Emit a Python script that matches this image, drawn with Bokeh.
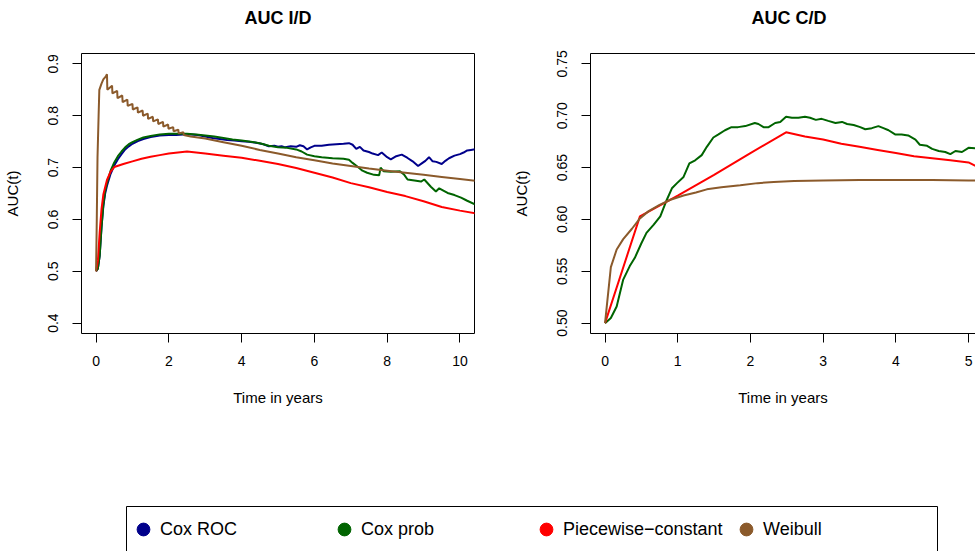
import math
from bokeh.plotting import figure
from bokeh.models import Range1d, LinearAxis, FixedTicker, Legend, LegendItem, Title
from bokeh.layouts import column, row
from bokeh.embed import file_html
from bokeh.resources import INLINE

FONT = "Liberation Sans"

# ---------------- data ----------------
series_names = ["Cox ROC", "Cox prob", "Piecewise\u2212constant", "Weibull"]
series_colors = ["#00008B", "#006400", "#FF0000", "#8B5A2B"]

id_x_ticks = [0, 2, 4, 6, 8, 10]
id_x_labels = ["0", "2", "4", "6", "8", "10"]
id_y_ticks = [0.4, 0.5, 0.6, 0.7, 0.8, 0.9]
id_y_labels = ["0.4", "0.5", "0.6", "0.7", "0.8", "0.9"]

cd_x_ticks = [0, 1, 2, 3, 4, 5]
cd_x_labels = ["0", "1", "2", "3", "4", "5"]
cd_y_ticks = [0.50, 0.55, 0.60, 0.65, 0.70, 0.75]
cd_y_labels = ["0.50", "0.55", "0.60", "0.65", "0.70", "0.75"]

# AUC I/D
id_coxroc_t = [0.00, 0.05, 0.10, 0.15, 0.20, 0.25, 0.30, 0.40, 0.50, 0.60, 0.70, 0.80, 0.90,
               1.00, 1.15, 1.30, 1.50, 1.75, 2.00, 2.20, 2.40, 2.60, 2.80, 3.00, 3.20, 3.40,
               3.60, 3.80, 4.00, 4.20, 4.40, 4.60, 4.75, 4.90, 5.00, 5.10, 5.20, 5.35, 5.50,
               5.60, 5.70, 5.80, 5.90, 6.00, 6.20, 6.40, 6.60, 6.80, 6.95, 7.05, 7.15, 7.25,
               7.35, 7.50, 7.60, 7.75, 7.85, 8.00, 8.10, 8.25, 8.40, 8.55, 8.70, 8.85, 8.95,
               9.05, 9.15, 9.25, 9.35, 9.50, 9.60, 9.70, 9.85, 10.00, 10.10, 10.20, 10.30, 10.50]
id_coxroc_v = [0.500, 0.505, 0.530, 0.585, 0.625, 0.650, 0.665, 0.688, 0.704, 0.716, 0.726, 0.735, 0.741,
               0.746, 0.751, 0.755, 0.759, 0.762, 0.763, 0.763, 0.764, 0.764, 0.763, 0.760, 0.757, 0.755,
               0.753, 0.752, 0.751, 0.750, 0.748, 0.745, 0.741, 0.742, 0.740, 0.741, 0.739, 0.741, 0.740,
               0.743, 0.741, 0.735, 0.739, 0.742, 0.742, 0.744, 0.745, 0.746, 0.747, 0.744, 0.736, 0.740,
               0.733, 0.730, 0.727, 0.724, 0.729, 0.720, 0.716, 0.722, 0.725, 0.719, 0.712, 0.703, 0.708,
               0.713, 0.720, 0.712, 0.711, 0.707, 0.713, 0.718, 0.723, 0.726, 0.729, 0.733, 0.734, 0.736]

id_coxprob_t = [0.00, 0.05, 0.10, 0.15, 0.20, 0.25, 0.30, 0.40, 0.50, 0.60, 0.70, 0.80, 0.90,
                1.00, 1.15, 1.30, 1.50, 1.75, 2.00, 2.25, 2.50, 2.75, 3.00, 3.25, 3.50, 3.75,
                4.00, 4.25, 4.50, 4.75, 5.00, 5.25, 5.50, 5.65, 5.80, 6.00, 6.20, 6.50, 6.80,
                6.95, 7.05, 7.18, 7.32, 7.45, 7.64, 7.78, 7.82, 7.90, 8.10, 8.35, 8.47, 8.56,
                8.75, 8.93, 9.02, 9.20, 9.34, 9.43, 9.66, 9.85, 10.03, 10.20, 10.50]
id_coxprob_v = [0.500, 0.505, 0.530, 0.585, 0.628, 0.655, 0.670, 0.694, 0.710, 0.722, 0.731, 0.739, 0.745,
                0.749, 0.754, 0.758, 0.761, 0.764, 0.765, 0.765, 0.765, 0.764, 0.762, 0.760, 0.757, 0.754,
                0.752, 0.750, 0.747, 0.742, 0.739, 0.738, 0.735, 0.731, 0.725, 0.722, 0.720, 0.718, 0.717,
                0.715, 0.709, 0.702, 0.694, 0.690, 0.686, 0.685, 0.700, 0.693, 0.692, 0.693, 0.686, 0.677,
                0.675, 0.673, 0.677, 0.663, 0.654, 0.660, 0.651, 0.647, 0.642, 0.636, 0.626]

id_pwc_t = [0.00, 0.05, 0.10, 0.15, 0.20, 0.30, 0.40, 0.50, 0.75, 1.00, 1.25, 1.50, 1.75, 2.00,
            2.25, 2.50, 3.00, 3.50, 4.00, 4.50, 5.00, 5.50, 6.00, 6.50, 7.00, 7.50, 8.00, 8.50,
            9.00, 9.50, 10.00, 10.50]
id_pwc_v = [0.500, 0.520, 0.575, 0.620, 0.648, 0.676, 0.692, 0.701, 0.707, 0.712, 0.717, 0.721, 0.724, 0.727,
            0.729, 0.731, 0.727, 0.723, 0.719, 0.713, 0.707, 0.699, 0.690, 0.681, 0.670, 0.662, 0.653, 0.645,
            0.635, 0.624, 0.617, 0.611]

id_weib_t = [0.00, 0.02, 0.04, 0.07, 0.09, 0.15, 0.20, 0.27, 0.30,
             0.31, 0.44, 0.45, 0.58, 0.59, 0.72, 0.73, 0.86, 0.87, 1.00, 1.01, 1.14, 1.15,
             1.28, 1.29, 1.42, 1.43, 1.56, 1.57, 1.70, 1.71, 1.84, 1.85, 1.98, 1.99, 2.12,
             2.13, 2.26, 2.27, 2.40, 2.41, 2.60, 3.00, 3.50, 4.00, 4.50, 5.00, 5.50, 6.00,
             6.50, 7.00, 7.50, 8.00, 8.50, 9.00, 9.50, 10.00, 10.50]
id_weib_v = [0.500, 0.600, 0.720, 0.800, 0.850, 0.862, 0.870, 0.876, 0.880,
             0.850, 0.858, 0.843, 0.848, 0.834, 0.839, 0.826, 0.831, 0.819, 0.823, 0.812, 0.816, 0.806,
             0.810, 0.800, 0.804, 0.794, 0.798, 0.789, 0.793, 0.784, 0.788, 0.779, 0.783, 0.775, 0.778,
             0.770, 0.773, 0.766, 0.768, 0.763, 0.760, 0.756, 0.749, 0.742, 0.734, 0.727, 0.720, 0.714,
             0.708, 0.703, 0.698, 0.694, 0.690, 0.686, 0.682, 0.678, 0.674]

# AUC C/D
cd_coxprob_t = [0.00, 0.08, 0.16, 0.25, 0.34, 0.41, 0.50, 0.57, 0.67, 0.76, 0.85, 0.92, 0.99,
                1.08, 1.16, 1.24, 1.33, 1.40, 1.49, 1.56, 1.65, 1.74, 1.83, 1.93, 2.06, 2.11,
                2.18, 2.25, 2.34, 2.41, 2.49, 2.57, 2.66, 2.75, 2.82, 2.90, 2.98, 3.07, 3.17,
                3.26, 3.33, 3.42, 3.51, 3.58, 3.67, 3.76, 3.83, 3.90, 3.99, 4.08, 4.17, 4.27,
                4.33, 4.43, 4.50, 4.59, 4.68, 4.75, 4.82, 4.91, 5.00, 5.20]
cd_coxprob_v = [0.500, 0.505, 0.516, 0.542, 0.555, 0.563, 0.577, 0.587, 0.595, 0.603, 0.619, 0.630, 0.635,
                0.641, 0.654, 0.657, 0.662, 0.670, 0.679, 0.682, 0.686, 0.689, 0.689, 0.690, 0.693, 0.692,
                0.689, 0.689, 0.693, 0.694, 0.699, 0.698, 0.698, 0.699, 0.698, 0.696, 0.697, 0.695, 0.693,
                0.694, 0.692, 0.691, 0.689, 0.687, 0.688, 0.690, 0.688, 0.686, 0.682, 0.682, 0.681, 0.677,
                0.672, 0.671, 0.668, 0.666, 0.665, 0.663, 0.666, 0.665, 0.669, 0.668]

cd_pwc_t = [0.00, 0.48, 1.00, 1.50, 2.00, 2.49, 2.75, 3.00, 3.25, 3.50, 3.75, 4.00, 4.25, 4.50,
            4.75, 5.00, 5.20]
cd_pwc_v = [0.500, 0.603, 0.623, 0.643, 0.664, 0.684, 0.680, 0.677, 0.673, 0.670, 0.667, 0.664, 0.661, 0.659,
            0.657, 0.655, 0.648]

cd_weib_t = [0.00, 0.08, 0.16, 0.25, 0.37, 0.48, 0.60, 0.75, 0.90, 1.08, 1.25, 1.40, 1.60, 1.86,
             2.10, 2.32, 2.60, 3.00, 3.50, 4.00, 4.50, 5.00, 5.20]
cd_weib_v = [0.500, 0.554, 0.571, 0.581, 0.591, 0.601, 0.608, 0.614, 0.619, 0.623, 0.626, 0.629, 0.631, 0.633,
             0.635, 0.636, 0.637, 0.6375, 0.638, 0.638, 0.638, 0.6375, 0.6375]

# ---------------- styling helpers ----------------
def style_axis(ax, ticks, labels, label, vertical=False, line=False, standoff=13, label_standoff=18):
    ax.ticker = FixedTicker(ticks=ticks)
    ax.major_label_overrides = {t: l for t, l in zip(ticks, labels)}
    ax.major_label_text_font = FONT
    ax.major_label_text_font_size = "14px"
    ax.major_label_text_color = "black"
    ax.major_tick_out = 9
    ax.major_tick_in = 0
    ax.major_tick_line_color = "black"
    ax.minor_tick_line_color = None
    ax.minor_tick_out = 0
    ax.minor_tick_in = 0
    ax.axis_line_color = "black" if line else None
    ax.major_label_standoff = standoff
    ax.axis_label = label
    ax.axis_label_text_font = FONT
    ax.axis_label_text_font_size = "15px"
    ax.axis_label_text_font_style = "normal"
    ax.axis_label_text_color = "black"
    ax.axis_label_standoff = label_standoff
    if vertical:
        ax.major_label_orientation = "vertical"


def border_axis():
    return LinearAxis(ticker=FixedTicker(ticks=[]), major_label_text_font_size="0px",
                      major_tick_out=0, major_tick_in=0, minor_tick_out=0, minor_tick_in=0,
                      axis_line_color="black", axis_line_width=1)


def make_panel(title, xr, yr, xt, xl, yt, yl, width, mbl, mbr, full_box, title_align, title_offset):
    p = figure(width=width, height=440, x_range=Range1d(*xr), y_range=Range1d(*yr),
               output_backend="svg", toolbar_location=None, title=title,
               min_border_left=mbl, min_border_right=mbr, min_border_top=53, min_border_bottom=107)
    p.grid.visible = False
    p.title.text_font = FONT
    p.title.text_font_size = "18px"
    p.title.text_font_style = "bold"
    p.title.text_color = "black"
    p.title.align = title_align
    p.title.offset = title_offset
    p.title.standoff = 4
    style_axis(p.below[0], xt, xl, "Time in years", line=not full_box, standoff=13, label_standoff=20)
    style_axis(p.left[0], yt, yl, "AUC(t)", vertical=True, line=not full_box, standoff=14, label_standoff=25)
    if full_box:
        p.outline_line_color = "black"
        p.outline_line_width = 1
        p.outline_line_alpha = 1
    else:
        p.outline_line_color = None
        p.add_layout(border_axis(), "above")
    # empty spacer between the title and the frame
    p.add_layout(Title(text=" ", text_font_size="20px", text_font=FONT, standoff=0), "above")
    return p


p1 = make_panel("AUC I/D", (-0.4, 10.4), (0.38, 0.92), id_x_ticks, id_x_labels,
                id_y_ticks, id_y_labels, 500, 81, 26, True, "center", 0)
p2 = make_panel("AUC C/D", (-0.2, 5.096), (0.49, 0.76), cd_x_ticks, cd_x_labels,
                cd_y_ticks, cd_y_labels, 475, 90, 0, False, "left", 161)

id_series = [(id_coxroc_t, id_coxroc_v), (id_coxprob_t, id_coxprob_v),
             (id_pwc_t, id_pwc_v), (id_weib_t, id_weib_v)]
for (t, v), c in zip(id_series, series_colors):
    p1.line(t, v, line_color=c, line_width=2)

cd_series = [(cd_coxprob_t, cd_coxprob_v, series_colors[1]),
             (cd_pwc_t, cd_pwc_v, series_colors[2]),
             (cd_weib_t, cd_weib_v, series_colors[3])]
for t, v, c in cd_series:
    p2.line(t, v, line_color=c, line_width=2)

# ---------------- legend panel ----------------
p3 = figure(width=975, height=111, x_range=Range1d(0, 1), y_range=Range1d(0, 1),
            x_axis_type=None, y_axis_type=None, output_backend="svg", toolbar_location=None,
            min_border_left=126, min_border_right=38, min_border_top=66, min_border_bottom=0)
p3.outline_line_color = None
for side in ("left", "right", "above"):
    p3.add_layout(border_axis(), side)

legend_offsets = [1, 202, 404, 604]
nan = float("nan")
for name, col, xo in zip(series_names, series_colors, legend_offsets):
    r = p3.scatter(x=[nan], y=[nan], marker="circle", size=12, fill_color=col, line_color=col)
    leg = Legend(items=[LegendItem(label=name, renderers=[r])], location=(xo, 6),
                 orientation="horizontal", padding=0, margin=0, spacing=0,
                 border_line_color=None, background_fill_alpha=0,
                 glyph_width=32, glyph_height=32, label_standoff=1,
                 label_text_font=FONT, label_text_font_size="18px", label_text_color="black")
    p3.add_layout(leg, "center")

layout = column(row(p1, p2), p3)
open("out.html", "w").write(file_html(layout, INLINE))
